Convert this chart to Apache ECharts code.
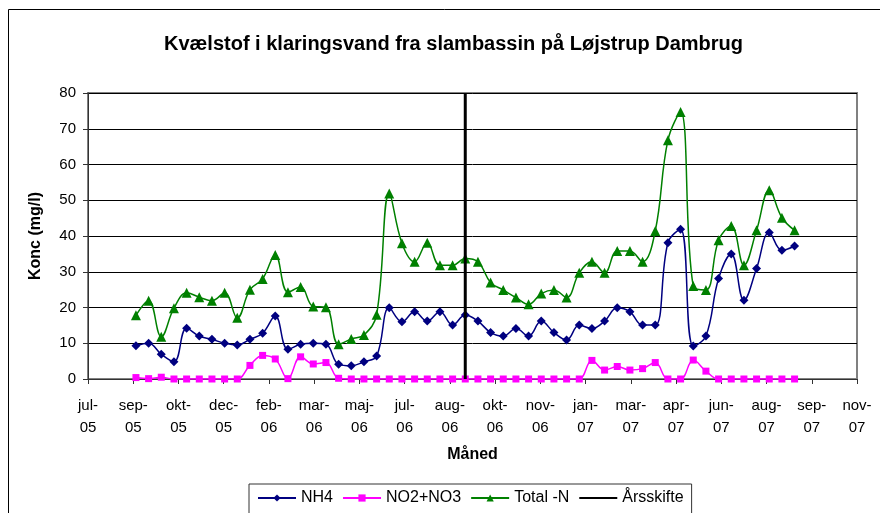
<!DOCTYPE html>
<html>
<head>
<meta charset="utf-8">
<script src="https://cdn.jsdelivr.net/npm/echarts@6/dist/echarts.min.js"></script>
<style>
  html, body { margin: 0; padding: 0; background: #fff; }
  #chart { width: 880px; height: 513px; }
</style>
</head>
<body>
<div id="chart"></div>
<script>
// axis starts here, ticks every 50 days
var axisStart = '2005-07-16';
var tickLabels = ['jul-\n05', 'sep-\n05', 'okt-\n05', 'dec-\n05', 'feb-\n06', 'mar-\n06', 'maj-\n06',
  'jul-\n06', 'aug-\n06', 'okt-\n06', 'nov-\n06', 'jan-\n07', 'mar-\n07', 'apr-\n07', 'jun-\n07',
  'aug-\n07', 'sep-\n07', 'nov-\n07'];

// sample dates (every second week)
var dates = [
  '2005-09-07', '2005-09-21', '2005-10-05', '2005-10-19', '2005-11-02', '2005-11-16', '2005-11-30',
  '2005-12-14', '2005-12-28', '2006-01-11', '2006-01-25', '2006-02-08', '2006-02-22', '2006-03-08',
  '2006-03-22', '2006-04-05', '2006-04-19', '2006-05-03', '2006-05-17', '2006-05-31', '2006-06-14',
  '2006-06-28', '2006-07-12', '2006-07-26', '2006-08-09', '2006-08-23', '2006-09-06', '2006-09-20',
  '2006-10-04', '2006-10-18', '2006-11-01', '2006-11-15', '2006-11-29', '2006-12-13', '2006-12-27',
  '2007-01-10', '2007-01-24', '2007-02-07', '2007-02-21', '2007-03-07', '2007-03-21', '2007-04-04',
  '2007-04-18', '2007-05-02', '2007-05-16', '2007-05-30', '2007-06-13', '2007-06-27', '2007-07-11',
  '2007-07-25', '2007-08-08', '2007-08-22', '2007-09-05'
];

var nh4 = [9.3, 10.0, 6.9, 4.8, 14.2, 12.0, 11.1, 10.0, 9.5, 11.1, 12.8, 17.6, 8.3, 9.7, 10.0, 9.7,
  4.1, 3.7, 4.8, 6.4, 19.9, 16.0, 18.8, 16.2, 18.8, 15.1, 17.9, 16.2, 13.0, 12.0, 14.1, 12.0, 16.2,
  13.0, 10.9, 15.1, 14.1, 16.2, 19.9, 18.8, 15.1, 15.1, 38.1, 41.9, 9.2, 12.0, 28.1, 35.0, 22.0,
  30.9, 41.0, 36.0, 37.2];

var no2no3 = [0.4, 0.1, 0.5, 0, 0, 0, 0, 0, 0, 3.8, 6.6, 5.6, 0.1, 6.2, 4.2, 4.6,
  0.2, 0, 0, 0, 0, 0, 0, 0, 0, 0, 0, 0, 0, 0, 0, 0, 0,
  0, 0, 0, 5.2, 2.5, 3.5, 2.5, 2.9, 4.6, 0, 0, 5.3, 2.2, 0, 0, 0,
  0, 0, 0, 0];

var totalN = [17.8, 21.9, 11.8, 19.8, 24.1, 22.9, 21.9, 24.1, 17.1, 25.0, 28.0, 34.7, 24.3, 25.7, 20.3, 20.1,
  9.7, 11.2, 12.3, 18.0, 51.9, 38.0, 32.8, 38.1, 31.8, 31.8, 33.7, 32.8, 27.0, 24.9, 22.8, 20.9, 23.9,
  24.9, 22.8, 29.7, 32.8, 29.7, 35.8, 35.8, 32.8, 41.4, 66.8, 74.7, 26.0, 24.9, 38.8, 42.8, 31.8,
  41.6, 52.8, 45.1, 41.6];

var yearShift = '2006-09-06';

function dayOf(d) {
  return Math.round((Date.parse(d) - Date.parse(axisStart)) / 86400000);
}
function pairs(vals) {
  return vals.map(function (v, i) { return [dayOf(dates[i]), v]; });
}

var font = 'Liberation Sans, Arial, sans-serif';
var chart = echarts.init(document.getElementById('chart'));
var option = {
  animation: false,
  textStyle: { fontFamily: font },
  title: {
    text: 'Kvælstof i klaringsvand fra slambassin på Løjstrup Dambrug',
    left: 159,
    top: 29,
    textStyle: { fontSize: 20, fontWeight: 'bold', color: '#000', fontFamily: font }
  },
  graphic: [{
    type: 'rect',
    shape: { x: 8.5, y: 9.5, width: 900, height: 600 },
    style: { fill: 'none', stroke: '#000', lineWidth: 1 },
    z: -1
  }],
  grid: {
    left: 88, right: 23, top: 93, bottom: 134,
    show: true, borderColor: '#808080', borderWidth: 2
  },
  legend: {
    left: 249, top: 484,
    padding: [6, 8, 14, 8],
    itemGap: 9,
    itemWidth: 38, itemHeight: 9,
    borderColor: '#333', borderWidth: 1,
    selectedMode: false,
    textStyle: { fontSize: 16, color: '#000', fontFamily: font },
    data: ['NH4', 'NO2+NO3', 'Total -N', { name: 'Årsskifte', itemStyle: { opacity: 0 } }]
  },
  xAxis: {
    type: 'value',
    min: 0, max: 850, interval: 50,
    name: 'Måned',
    nameLocation: 'middle',
    nameGap: 68,
    nameTextStyle: { fontSize: 16, fontWeight: 'bold', color: '#000' },
    axisLine: { onZero: false, lineStyle: { color: '#333', width: 1 } },
    axisTick: { inside: false, length: 5, lineStyle: { color: '#333' } },
    axisLabel: {
      fontSize: 15, color: '#000', margin: 16, lineHeight: 22,
      formatter: function (v) { return tickLabels[Math.round(v / 50)]; }
    },
    splitLine: { show: false }
  },
  yAxis: {
    type: 'value',
    min: 0, max: 80, interval: 10,
    name: 'Konc (mg/l)',
    nameLocation: 'middle',
    nameGap: 44,
    nameTextStyle: { fontSize: 16, fontWeight: 'bold', color: '#000' },
    axisLine: { show: true, lineStyle: { color: '#333', width: 1 } },
    axisTick: { show: true, length: 5, lineStyle: { color: '#333' } },
    axisLabel: { fontSize: 15, color: '#000', margin: 12 },
    splitLine: { lineStyle: { color: '#000', width: 1 } }
  },
  series: [
    {
      name: 'NH4', type: 'line', smooth: 0.4,
      symbol: 'diamond', symbolSize: 9,
      itemStyle: { color: '#000080' },
      lineStyle: { color: '#000080', width: 1.5 },
      data: pairs(nh4), z: 3
    },
    {
      name: 'NO2+NO3', type: 'line', smooth: 0.4,
      symbol: 'rect', symbolSize: 7,
      itemStyle: { color: '#ff00ff' },
      lineStyle: { color: '#ff00ff', width: 1.5 },
      data: pairs(no2no3), z: 2
    },
    {
      name: 'Total -N', type: 'line', smooth: 0.4,
      symbol: 'triangle', symbolSize: 10,
      itemStyle: { color: '#008000' },
      lineStyle: { color: '#008000', width: 1.5 },
      data: pairs(totalN), z: 3
    },
    {
      name: 'Årsskifte', type: 'line',
      symbol: 'none',
      itemStyle: { color: '#000' },
      lineStyle: { color: '#000', width: 3 },
      data: [[dayOf(yearShift), 0], [dayOf(yearShift), 80]], z: 4
    }
  ]
};
chart.setOption(option);
</script>
</body>
</html>
